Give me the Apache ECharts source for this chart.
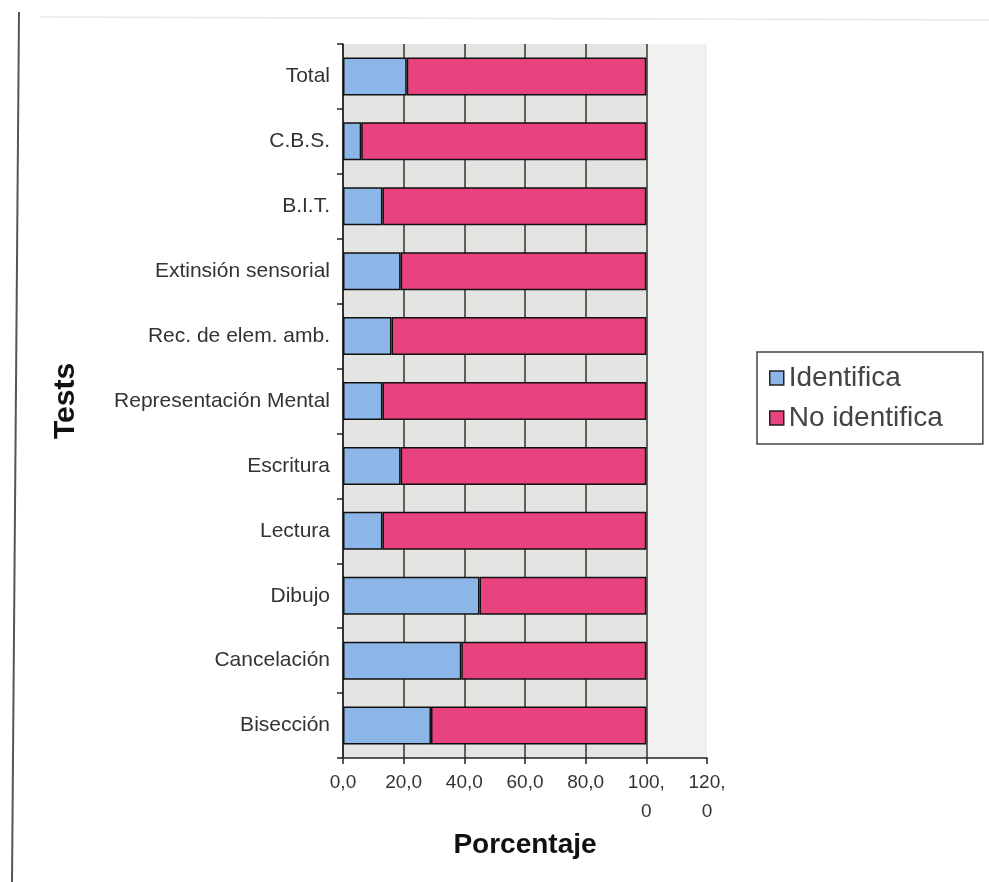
<!DOCTYPE html>
<html lang="es" style="height: 100%">

<head>
    <meta charset="UTF-8">
    <title>Tests - Porcentaje</title>
    <script src="https://cdn.jsdelivr.net/npm/echarts@6/dist/echarts.min.js"></script>
</head>

<body style="height: 100%; margin: 0; background: #fff">
    <div id="main" style="width: 989px; height: 882px"></div>
    <script>
        // categorias de abajo hacia arriba
        var tests = ['Bisección', 'Cancelación', 'Dibujo', 'Lectura', 'Escritura',
            'Representación Mental', 'Rec. de elem. amb.', 'Extinsión sensorial',
            'B.I.T.', 'C.B.S.', 'Total'];
        var identifica = [29, 39, 45, 13, 19, 13, 16, 19, 13, 6, 21];
        var noIdentifica = [71, 61, 55, 87, 81, 87, 84, 81, 87, 94, 79];
        var xTickLabels = ['0,0', '20,0', '40,0', '60,0', '80,0', '100,\n0', '120,\n0'];

        var myChart = echarts.init(document.getElementById('main'));
        var txt = '#333';
        var gris = '#e4e4e2';

        var option = {
            backgroundColor: '#fff',
            textStyle: { fontFamily: 'Liberation Sans, Arial, sans-serif' },
            grid: {
                left: 343, right: 282, top: 44, bottom: 124,
                show: false
            },
            legend: {
                orient: 'vertical',
                left: 757, top: 352,
                padding: [12, 40, 12, 12],
                itemGap: 12,
                itemWidth: 14, itemHeight: 14,
                icon: 'rect',
                borderColor: '#444', borderWidth: 1.5,
                backgroundColor: '#fff',
                textStyle: { fontSize: 28, color: '#444' },
                data: [
                    { name: 'Identifica', itemStyle: { borderColor: '#222', borderWidth: 1.5 } },
                    { name: 'No identifica', itemStyle: { borderColor: '#222', borderWidth: 1.5 } }
                ]
            },
            xAxis: {
                type: 'value',
                min: 0, max: 120, interval: 20,
                name: 'Porcentaje',
                nameLocation: 'middle',
                nameGap: 58,
                nameTextStyle: { fontSize: 28, fontWeight: 'bold', color: '#111' },
                axisLine: { show: true, lineStyle: { color: '#222', width: 1.5 } },
                axisTick: { show: true, length: 6, lineStyle: { color: '#222', width: 1.5 } },
                axisLabel: {
                    fontSize: 19, color: txt, margin: 10, lineHeight: 29,
                    formatter: function (v) { return xTickLabels[v / 20]; }
                },
                splitLine: { show: true, showMaxLine: false, lineStyle: { color: '#2a3a2c', width: 1.5 } },
                splitArea: {
                    show: true,
                    areaStyle: { color: [gris, gris, gris, gris, gris, '#f1f1ef'] }
                }
            },
            yAxis: {
                type: 'category',
                data: tests,
                name: 'Tests',
                nameLocation: 'middle',
                nameRotate: 90,
                nameGap: 262,
                nameTextStyle: { fontSize: 30, fontWeight: 'bold', color: '#111' },
                axisLine: { lineStyle: { color: '#222', width: 1.5 } },
                axisTick: { show: true, length: 6, lineStyle: { color: '#222', width: 1.5 } },
                axisLabel: { fontSize: 21, color: txt, margin: 13 },
                splitLine: { show: false }
            },
            series: [
                {
                    name: 'Identifica',
                    type: 'bar',
                    stack: 'total',
                    barWidth: 38,
                    data: identifica,
                    itemStyle: { color: '#8db6e8', borderColor: '#111', borderWidth: 1.5 }
                },
                {
                    name: 'No identifica',
                    type: 'bar',
                    stack: 'total',
                    barWidth: 38,
                    data: noIdentifica,
                    itemStyle: { color: '#e8437f', borderColor: '#111', borderWidth: 1.5 }
                }
            ],
            graphic: [
                {
                    type: 'line',
                    shape: { x1: 19, y1: 12, x2: 12, y2: 882 },
                    style: { stroke: '#555', lineWidth: 2 }
                },
                {
                    type: 'line',
                    shape: { x1: 40, y1: 17, x2: 989, y2: 20 },
                    style: { stroke: '#e6e6e6', lineWidth: 1.5 }
                }
            ]
        };

        myChart.setOption(option);
        window.addEventListener('resize', myChart.resize);
    </script>
</body>

</html>
